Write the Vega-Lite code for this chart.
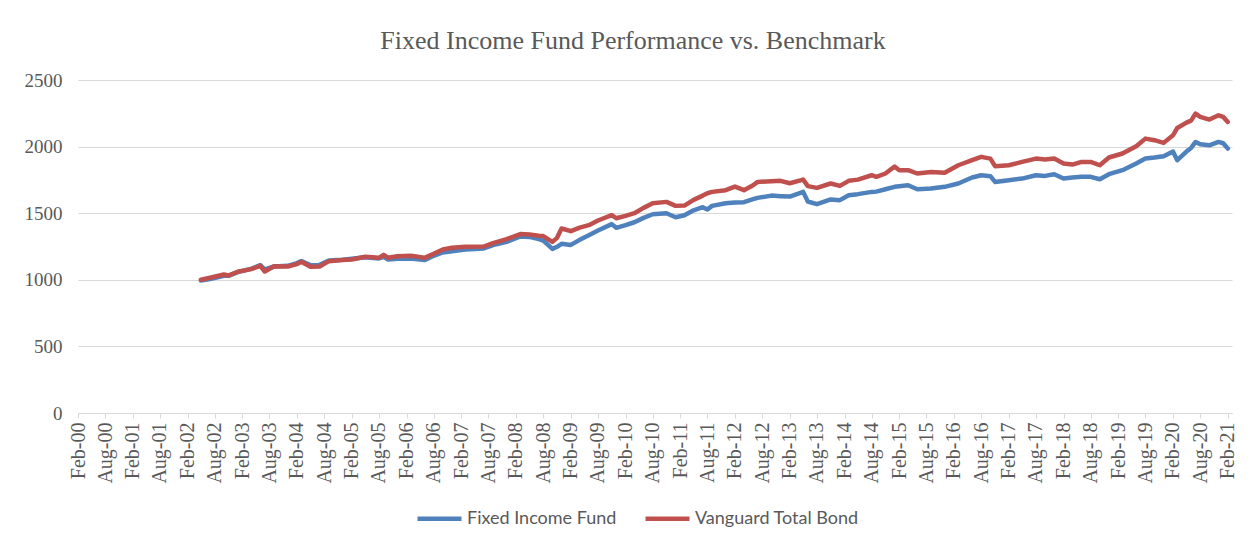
{
  "$schema": "https://vega.github.io/schema/vega-lite/v6.json",
  "width": 1154,
  "height": 333,
  "autosize": {"type": "none"},
  "padding": {"left": 78, "top": 80, "right": 20, "bottom": 133},
  "background": "white",
  "title": {"text": "Fixed Income Fund Performance vs. Benchmark", "font": "Liberation Serif", "fontSize": 26, "fontWeight": "normal", "color": "#595959", "offset": 17, "dx": -22, "anchor": "middle"},
  "data": {"values": [
    {"date": "2002-05-01", "Fixed Income Fund": 995, "Vanguard Total Bond": 1000},
    {"date": "2002-07-01", "Fixed Income Fund": 1005, "Vanguard Total Bond": 1015},
    {"date": "2002-10-01", "Fixed Income Fund": 1030, "Vanguard Total Bond": 1040},
    {"date": "2002-11-01", "Fixed Income Fund": 1030, "Vanguard Total Bond": 1032},
    {"date": "2003-01-01", "Fixed Income Fund": 1058, "Vanguard Total Bond": 1060},
    {"date": "2003-04-01", "Fixed Income Fund": 1082, "Vanguard Total Bond": 1080},
    {"date": "2003-06-01", "Fixed Income Fund": 1110, "Vanguard Total Bond": 1105},
    {"date": "2003-07-01", "Fixed Income Fund": 1078, "Vanguard Total Bond": 1062},
    {"date": "2003-09-01", "Fixed Income Fund": 1100, "Vanguard Total Bond": 1102},
    {"date": "2003-12-01", "Fixed Income Fund": 1105, "Vanguard Total Bond": 1100},
    {"date": "2004-02-01", "Fixed Income Fund": 1125, "Vanguard Total Bond": 1118},
    {"date": "2004-03-01", "Fixed Income Fund": 1140, "Vanguard Total Bond": 1135},
    {"date": "2004-05-01", "Fixed Income Fund": 1110, "Vanguard Total Bond": 1098},
    {"date": "2004-07-01", "Fixed Income Fund": 1112, "Vanguard Total Bond": 1100},
    {"date": "2004-09-01", "Fixed Income Fund": 1145, "Vanguard Total Bond": 1140},
    {"date": "2004-12-01", "Fixed Income Fund": 1150, "Vanguard Total Bond": 1148},
    {"date": "2005-02-01", "Fixed Income Fund": 1158, "Vanguard Total Bond": 1153},
    {"date": "2005-05-01", "Fixed Income Fund": 1170, "Vanguard Total Bond": 1173},
    {"date": "2005-08-01", "Fixed Income Fund": 1160, "Vanguard Total Bond": 1165},
    {"date": "2005-09-01", "Fixed Income Fund": 1172, "Vanguard Total Bond": 1188},
    {"date": "2005-10-01", "Fixed Income Fund": 1152, "Vanguard Total Bond": 1165},
    {"date": "2005-12-01", "Fixed Income Fund": 1158, "Vanguard Total Bond": 1177},
    {"date": "2006-03-01", "Fixed Income Fund": 1160, "Vanguard Total Bond": 1180},
    {"date": "2006-06-01", "Fixed Income Fund": 1148, "Vanguard Total Bond": 1165},
    {"date": "2006-08-01", "Fixed Income Fund": 1180, "Vanguard Total Bond": 1195},
    {"date": "2006-10-01", "Fixed Income Fund": 1205, "Vanguard Total Bond": 1228},
    {"date": "2006-12-01", "Fixed Income Fund": 1215, "Vanguard Total Bond": 1240},
    {"date": "2007-03-01", "Fixed Income Fund": 1228, "Vanguard Total Bond": 1248},
    {"date": "2007-07-01", "Fixed Income Fund": 1235, "Vanguard Total Bond": 1250},
    {"date": "2007-09-01", "Fixed Income Fund": 1260, "Vanguard Total Bond": 1275},
    {"date": "2007-12-01", "Fixed Income Fund": 1285, "Vanguard Total Bond": 1305},
    {"date": "2008-03-01", "Fixed Income Fund": 1325, "Vanguard Total Bond": 1343},
    {"date": "2008-05-01", "Fixed Income Fund": 1322, "Vanguard Total Bond": 1340},
    {"date": "2008-07-01", "Fixed Income Fund": 1305, "Vanguard Total Bond": 1330},
    {"date": "2008-08-01", "Fixed Income Fund": 1295, "Vanguard Total Bond": 1328},
    {"date": "2008-10-01", "Fixed Income Fund": 1232, "Vanguard Total Bond": 1285},
    {"date": "2008-11-01", "Fixed Income Fund": 1248, "Vanguard Total Bond": 1315},
    {"date": "2008-12-01", "Fixed Income Fund": 1270, "Vanguard Total Bond": 1385},
    {"date": "2009-02-01", "Fixed Income Fund": 1262, "Vanguard Total Bond": 1365},
    {"date": "2009-04-01", "Fixed Income Fund": 1300, "Vanguard Total Bond": 1392},
    {"date": "2009-06-01", "Fixed Income Fund": 1335, "Vanguard Total Bond": 1410},
    {"date": "2009-08-01", "Fixed Income Fund": 1370, "Vanguard Total Bond": 1445},
    {"date": "2009-11-01", "Fixed Income Fund": 1418, "Vanguard Total Bond": 1485},
    {"date": "2009-12-01", "Fixed Income Fund": 1390, "Vanguard Total Bond": 1462},
    {"date": "2010-02-01", "Fixed Income Fund": 1410, "Vanguard Total Bond": 1480},
    {"date": "2010-04-01", "Fixed Income Fund": 1432, "Vanguard Total Bond": 1500},
    {"date": "2010-06-01", "Fixed Income Fund": 1465, "Vanguard Total Bond": 1540},
    {"date": "2010-08-01", "Fixed Income Fund": 1492, "Vanguard Total Bond": 1575},
    {"date": "2010-11-01", "Fixed Income Fund": 1500, "Vanguard Total Bond": 1585},
    {"date": "2011-01-01", "Fixed Income Fund": 1470, "Vanguard Total Bond": 1555},
    {"date": "2011-03-01", "Fixed Income Fund": 1485, "Vanguard Total Bond": 1557},
    {"date": "2011-05-01", "Fixed Income Fund": 1522, "Vanguard Total Bond": 1600},
    {"date": "2011-07-01", "Fixed Income Fund": 1545, "Vanguard Total Bond": 1632},
    {"date": "2011-08-01", "Fixed Income Fund": 1528, "Vanguard Total Bond": 1650},
    {"date": "2011-09-01", "Fixed Income Fund": 1555, "Vanguard Total Bond": 1660},
    {"date": "2011-12-01", "Fixed Income Fund": 1575, "Vanguard Total Bond": 1673},
    {"date": "2012-02-01", "Fixed Income Fund": 1580, "Vanguard Total Bond": 1700},
    {"date": "2012-04-01", "Fixed Income Fund": 1583, "Vanguard Total Bond": 1673},
    {"date": "2012-06-01", "Fixed Income Fund": 1605, "Vanguard Total Bond": 1710},
    {"date": "2012-07-01", "Fixed Income Fund": 1615, "Vanguard Total Bond": 1735},
    {"date": "2012-10-01", "Fixed Income Fund": 1632, "Vanguard Total Bond": 1740},
    {"date": "2012-12-01", "Fixed Income Fund": 1628, "Vanguard Total Bond": 1743},
    {"date": "2013-02-01", "Fixed Income Fund": 1625, "Vanguard Total Bond": 1725},
    {"date": "2013-05-01", "Fixed Income Fund": 1660, "Vanguard Total Bond": 1752},
    {"date": "2013-06-01", "Fixed Income Fund": 1588, "Vanguard Total Bond": 1703},
    {"date": "2013-08-01", "Fixed Income Fund": 1568, "Vanguard Total Bond": 1690},
    {"date": "2013-11-01", "Fixed Income Fund": 1603, "Vanguard Total Bond": 1723},
    {"date": "2014-01-01", "Fixed Income Fund": 1598, "Vanguard Total Bond": 1705},
    {"date": "2014-03-01", "Fixed Income Fund": 1635, "Vanguard Total Bond": 1743},
    {"date": "2014-05-01", "Fixed Income Fund": 1643, "Vanguard Total Bond": 1752},
    {"date": "2014-08-01", "Fixed Income Fund": 1660, "Vanguard Total Bond": 1785},
    {"date": "2014-09-01", "Fixed Income Fund": 1662, "Vanguard Total Bond": 1773},
    {"date": "2014-11-01", "Fixed Income Fund": 1680, "Vanguard Total Bond": 1798},
    {"date": "2015-01-01", "Fixed Income Fund": 1698, "Vanguard Total Bond": 1850},
    {"date": "2015-02-01", "Fixed Income Fund": 1703, "Vanguard Total Bond": 1823},
    {"date": "2015-04-01", "Fixed Income Fund": 1710, "Vanguard Total Bond": 1823},
    {"date": "2015-06-01", "Fixed Income Fund": 1680, "Vanguard Total Bond": 1798},
    {"date": "2015-09-01", "Fixed Income Fund": 1685, "Vanguard Total Bond": 1810},
    {"date": "2015-12-01", "Fixed Income Fund": 1698, "Vanguard Total Bond": 1803},
    {"date": "2016-03-01", "Fixed Income Fund": 1723, "Vanguard Total Bond": 1860},
    {"date": "2016-06-01", "Fixed Income Fund": 1768, "Vanguard Total Bond": 1898},
    {"date": "2016-08-01", "Fixed Income Fund": 1785, "Vanguard Total Bond": 1923},
    {"date": "2016-10-01", "Fixed Income Fund": 1778, "Vanguard Total Bond": 1910},
    {"date": "2016-11-01", "Fixed Income Fund": 1735, "Vanguard Total Bond": 1853},
    {"date": "2017-02-01", "Fixed Income Fund": 1748, "Vanguard Total Bond": 1860},
    {"date": "2017-05-01", "Fixed Income Fund": 1760, "Vanguard Total Bond": 1885},
    {"date": "2017-08-01", "Fixed Income Fund": 1785, "Vanguard Total Bond": 1910},
    {"date": "2017-10-01", "Fixed Income Fund": 1780, "Vanguard Total Bond": 1903},
    {"date": "2017-12-01", "Fixed Income Fund": 1793, "Vanguard Total Bond": 1910},
    {"date": "2018-02-01", "Fixed Income Fund": 1760, "Vanguard Total Bond": 1873},
    {"date": "2018-04-01", "Fixed Income Fund": 1768, "Vanguard Total Bond": 1865},
    {"date": "2018-06-01", "Fixed Income Fund": 1773, "Vanguard Total Bond": 1885},
    {"date": "2018-08-01", "Fixed Income Fund": 1773, "Vanguard Total Bond": 1885},
    {"date": "2018-10-01", "Fixed Income Fund": 1755, "Vanguard Total Bond": 1860},
    {"date": "2018-12-01", "Fixed Income Fund": 1793, "Vanguard Total Bond": 1918},
    {"date": "2019-03-01", "Fixed Income Fund": 1823, "Vanguard Total Bond": 1948},
    {"date": "2019-06-01", "Fixed Income Fund": 1873, "Vanguard Total Bond": 2003},
    {"date": "2019-08-01", "Fixed Income Fund": 1910, "Vanguard Total Bond": 2060},
    {"date": "2019-10-01", "Fixed Income Fund": 1918, "Vanguard Total Bond": 2048},
    {"date": "2019-12-01", "Fixed Income Fund": 1928, "Vanguard Total Bond": 2028},
    {"date": "2020-02-01", "Fixed Income Fund": 1963, "Vanguard Total Bond": 2085},
    {"date": "2020-03-01", "Fixed Income Fund": 1898, "Vanguard Total Bond": 2140},
    {"date": "2020-05-01", "Fixed Income Fund": 1963, "Vanguard Total Bond": 2180},
    {"date": "2020-06-01", "Fixed Income Fund": 1990, "Vanguard Total Bond": 2195},
    {"date": "2020-07-01", "Fixed Income Fund": 2035, "Vanguard Total Bond": 2248},
    {"date": "2020-08-01", "Fixed Income Fund": 2018, "Vanguard Total Bond": 2223},
    {"date": "2020-10-01", "Fixed Income Fund": 2010, "Vanguard Total Bond": 2203},
    {"date": "2020-12-01", "Fixed Income Fund": 2035, "Vanguard Total Bond": 2235},
    {"date": "2021-01-01", "Fixed Income Fund": 2025, "Vanguard Total Bond": 2223},
    {"date": "2021-02-01", "Fixed Income Fund": 1985, "Vanguard Total Bond": 2185}
  ]},
  "transform": [{"fold": ["Fixed Income Fund", "Vanguard Total Bond"], "as": ["series", "value"]}],
  "mark": {"type": "line", "strokeWidth": 4.5, "strokeCap": "round", "strokeJoin": "round"},
  "encoding": {
    "x": {
      "field": "date", "type": "temporal", "timeUnit": "utcyearmonth",
      "scale": {"domain": [{"year": 2000, "month": 2, "date": 1, "utc": true}, {"year": 2021, "month": 3, "date": 1, "utc": true}]},
      "axis": {
        "title": null, "format": "%b-%y", "labelAngle": -90, "labelFont": "Liberation Serif", "labelFontSize": 20,
        "labelColor": "#595959", "labelPadding": 4, "tickSize": 5, "tickColor": "#D9D9D9", "domainColor": "#D9D9D9",
        "grid": false, "labelOverlap": false, "labelFlush": false, "labelBound": false,
        "values": [
          {"year": 2000, "month": 2, "date": 1, "utc": true}, {"year": 2000, "month": 8, "date": 1, "utc": true},
          {"year": 2001, "month": 2, "date": 1, "utc": true}, {"year": 2001, "month": 8, "date": 1, "utc": true},
          {"year": 2002, "month": 2, "date": 1, "utc": true}, {"year": 2002, "month": 8, "date": 1, "utc": true},
          {"year": 2003, "month": 2, "date": 1, "utc": true}, {"year": 2003, "month": 8, "date": 1, "utc": true},
          {"year": 2004, "month": 2, "date": 1, "utc": true}, {"year": 2004, "month": 8, "date": 1, "utc": true},
          {"year": 2005, "month": 2, "date": 1, "utc": true}, {"year": 2005, "month": 8, "date": 1, "utc": true},
          {"year": 2006, "month": 2, "date": 1, "utc": true}, {"year": 2006, "month": 8, "date": 1, "utc": true},
          {"year": 2007, "month": 2, "date": 1, "utc": true}, {"year": 2007, "month": 8, "date": 1, "utc": true},
          {"year": 2008, "month": 2, "date": 1, "utc": true}, {"year": 2008, "month": 8, "date": 1, "utc": true},
          {"year": 2009, "month": 2, "date": 1, "utc": true}, {"year": 2009, "month": 8, "date": 1, "utc": true},
          {"year": 2010, "month": 2, "date": 1, "utc": true}, {"year": 2010, "month": 8, "date": 1, "utc": true},
          {"year": 2011, "month": 2, "date": 1, "utc": true}, {"year": 2011, "month": 8, "date": 1, "utc": true},
          {"year": 2012, "month": 2, "date": 1, "utc": true}, {"year": 2012, "month": 8, "date": 1, "utc": true},
          {"year": 2013, "month": 2, "date": 1, "utc": true}, {"year": 2013, "month": 8, "date": 1, "utc": true},
          {"year": 2014, "month": 2, "date": 1, "utc": true}, {"year": 2014, "month": 8, "date": 1, "utc": true},
          {"year": 2015, "month": 2, "date": 1, "utc": true}, {"year": 2015, "month": 8, "date": 1, "utc": true},
          {"year": 2016, "month": 2, "date": 1, "utc": true}, {"year": 2016, "month": 8, "date": 1, "utc": true},
          {"year": 2017, "month": 2, "date": 1, "utc": true}, {"year": 2017, "month": 8, "date": 1, "utc": true},
          {"year": 2018, "month": 2, "date": 1, "utc": true}, {"year": 2018, "month": 8, "date": 1, "utc": true},
          {"year": 2019, "month": 2, "date": 1, "utc": true}, {"year": 2019, "month": 8, "date": 1, "utc": true},
          {"year": 2020, "month": 2, "date": 1, "utc": true}, {"year": 2020, "month": 8, "date": 1, "utc": true},
          {"year": 2021, "month": 2, "date": 1, "utc": true}
        ]
      }
    },
    "y": {
      "field": "value", "type": "quantitative",
      "scale": {"domain": [0, 2500]},
      "axis": {
        "title": null, "values": [0, 500, 1000, 1500, 2000, 2500], "format": "d", "labelFont": "Liberation Serif", "labelFontSize": 19,
        "labelColor": "#595959", "labelPadding": 16, "ticks": false, "domain": false,
        "gridColor": "#D9D9D9", "gridWidth": 1
      }
    },
    "color": {
      "field": "series", "type": "nominal",
      "scale": {"domain": ["Fixed Income Fund", "Vanguard Total Bond"], "range": ["#4F81BD", "#C0504D"]},
      "legend": {
        "title": null, "orient": "none", "legendX": 337, "legendY": 414, "direction": "horizontal",
        "symbolType": "stroke", "symbolStrokeWidth": 4.5, "symbolSize": 1936,
        "labelFont": "Lato", "labelFontSize": 18, "labelColor": "#595959", "labelOffset": 3, "columnPadding": 19,
        "labelLimit": 400
      }
    }
  },
  "config": {"view": {"stroke": null}}
}
